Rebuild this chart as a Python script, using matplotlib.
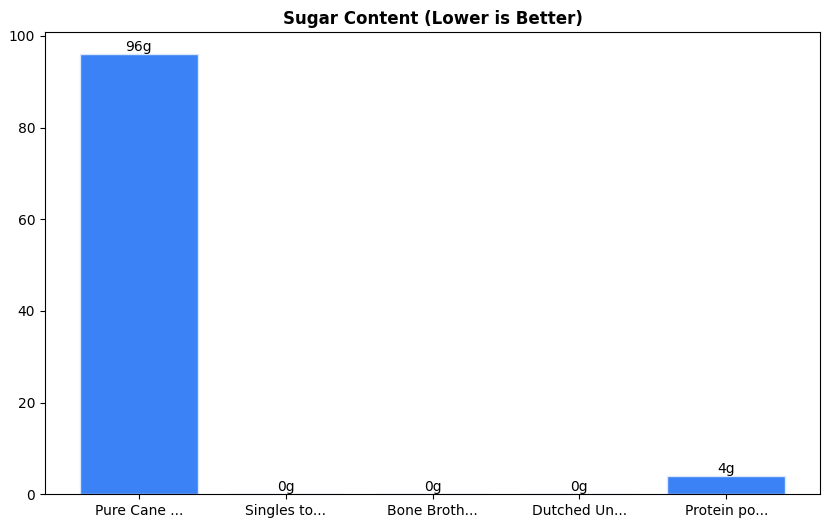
import matplotlib
matplotlib.use("Agg")
import matplotlib.pyplot as plt

categories = ["Pure Cane ...", "Singles to...", "Bone Broth...", "Dutched Un...", "Protein po..."]
sugar = [96, 0, 0, 0, 4]
labels = ["96g", "0g", "0g", "0g", "4g"]

fig = plt.figure(figsize=(8.31, 5.28), dpi=100)
ax = fig.add_axes([0.054, 0.064, 0.933, 0.875])
bars = ax.bar(categories, sugar, width=0.8, color="#3b82f6", edgecolor="#dbe7fb", linewidth=1)
for b, l in zip(bars, labels):
    ax.text(b.get_x() + b.get_width() / 2, b.get_height(), l, ha="center", va="bottom", fontsize=10)
ax.set_title("Sugar Content (Lower is Better)", fontweight="bold", fontsize=12)
ax.set_ylim(0, 100.8)
fig.savefig("out.png", dpi=100)
